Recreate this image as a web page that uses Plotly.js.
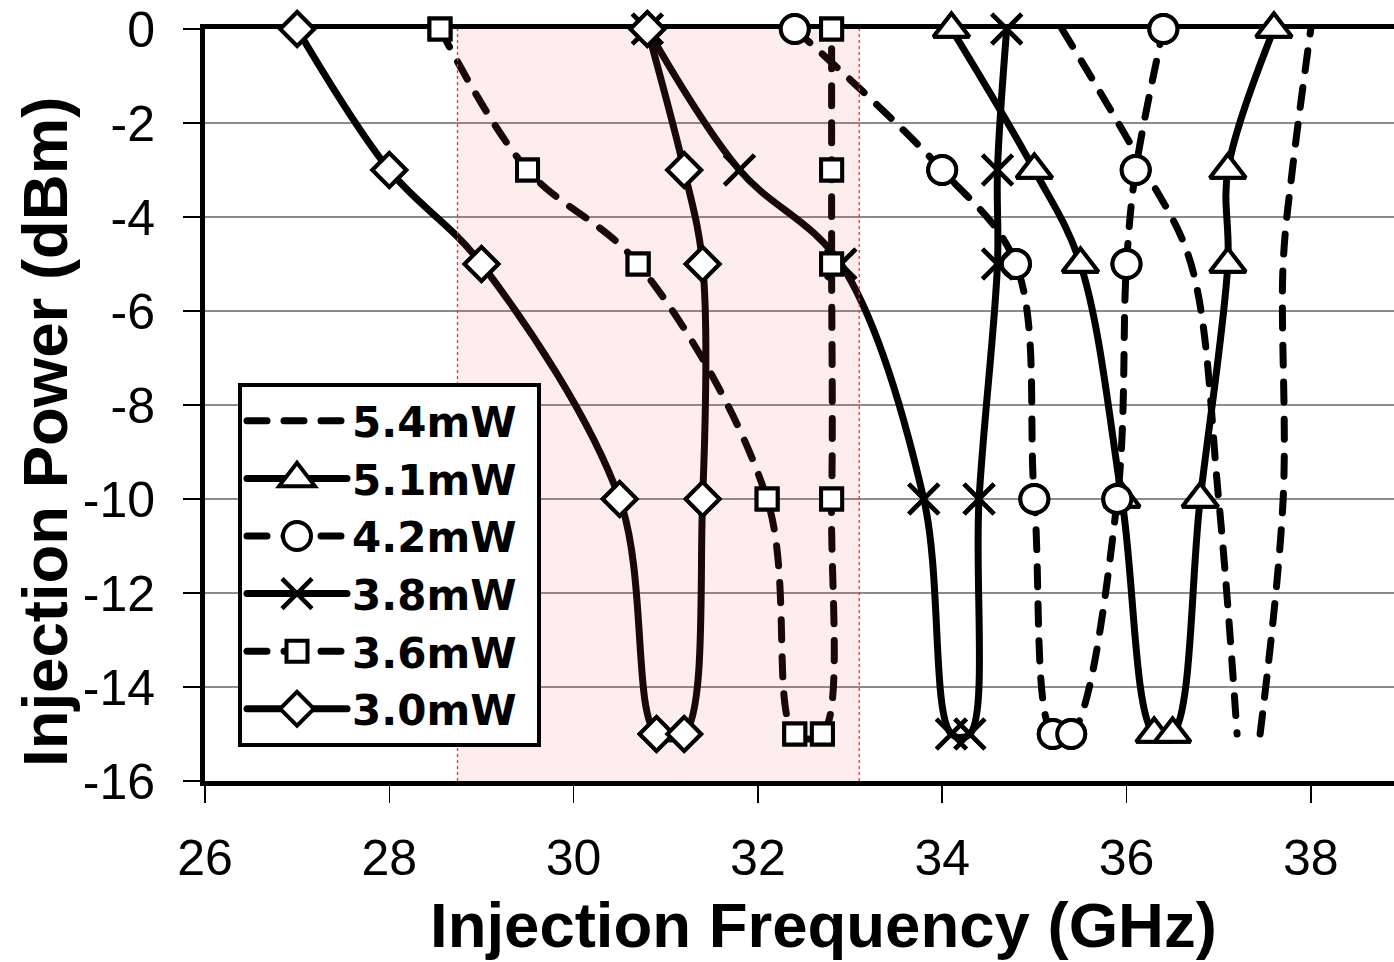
<!DOCTYPE html>
<html>
<head>
<meta charset="utf-8">
<script src="https://cdn.plot.ly/plotly-3.0.1.min.js"></script>
<style>
html, body { margin: 0; padding: 0; background: #ffffff; }
#chart { width: 1394px; height: 962px; }
.scatterlayer .js-line, .legend .js-line { stroke-linecap: round !important; }
</style>
</head>
<body>
<div id="chart"></div>
<script>
// ---- data ----
const seriesNames = ['5.4mW', '5.1mW', '4.2mW', '3.8mW', '3.6mW', '3.0mW'];
const power = [0, -3, -5, -10, -15, -15, -10, -5, -3, 0];
const freq54 = [35.3, 36.2, 36.7, 37.0, 37.2, 37.45, 37.7, 37.7, 37.8, 38.0];
const freq51 = [34.1, 35.0, 35.5, 35.95, 36.3, 36.5, 36.8, 37.1, 37.1, 37.6];
const freq42 = [32.4, 34.0, 34.8, 35.0, 35.2, 35.4, 35.9, 36.0, 36.1, 36.4];
const freq38 = [30.8, 31.8, 32.9, 33.8, 34.1, 34.3, 34.4, 34.6, 34.6, 34.7];
const freq36 = [28.55, 29.5, 30.7, 32.1, 32.4, 32.7, 32.8, 32.8, 32.8, 32.8];
const freq30 = [27.0, 28.0, 29.0, 30.5, 30.9, 31.2, 31.4, 31.4, 31.2, 30.8];
const shadeFreq = [28.74, 33.10];
const xTicks = [26, 28, 30, 32, 34, 36, 38];
const xTickLabels = ['26', '28', '30', '32', '34', '36', '38'];
const yTicks = [0, -2, -4, -6, -8, -10, -12, -14, -16];
const yTickLabels = ['0', '-2', '-4', '-6', '-8', '-10', '-12', '-14', '-16'];
const xRange = [26, 38.903];
const yRange = [-16, 0];
const xTitle = 'Injection Frequency (GHz)';
const yTitle = 'Injection Power (dBm)';

// ---- styles ----
const freqs = [freq54, freq51, freq42, freq38, freq36, freq30];
const dashes = ['20px,17px', 'solid', '20px,17px', 'solid', '20px,17px', 'solid'];
const symbols = [null, 'triangle-up', 'circle', 'x-thin', 'square', 'diamond'];
const sizes = [0, 31, 28, 30, 21, 26];
const splitBranches = [true, false, false, false, false, false];

function markerFor(i) {
  if (symbols[i] === 'x-thin') {
    return { symbol: 'x-thin', size: sizes[i], color: '#000', line: { color: '#000', width: 4.5 } };
  }
  return { symbol: symbols[i], size: sizes[i], color: '#ffffff', line: { color: '#000', width: 4 } };
}

function branchData(i) {
  // optionally draw the two sides of a curve without joining them at the bottom
  if (!splitBranches[i]) return { x: freqs[i], y: power };
  const h = power.length / 2;
  return {
    x: freqs[i].slice(0, h).concat([null], freqs[i].slice(h)),
    y: power.slice(0, h).concat([null], power.slice(h))
  };
}

const traces = [];
seriesNames.forEach((name, i) => {
  const d = branchData(i);
  const t = {
    type: 'scatter', name: name + '\u00a0', x: d.x, y: d.y,
    mode: symbols[i] ? 'lines+markers' : 'lines', connectgaps: false,
    line: { color: '#000', width: 7, shape: 'spline', smoothing: 1, dash: dashes[i] },
    cliponaxis: false, hoverinfo: 'skip'
  };
  if (symbols[i]) t.marker = markerFor(i);
  traces.push(t);
});
// shaded band overlay (above lines, below markers)
traces.push({
  type: 'scatter', mode: 'lines', showlegend: false, hoverinfo: 'skip',
  x: [shadeFreq[0], shadeFreq[1], shadeFreq[1], shadeFreq[0], shadeFreq[0]],
  y: [yRange[0], yRange[0], yRange[1], yRange[1], yRange[0]],
  fill: 'toself', fillcolor: 'rgba(240,80,80,0.10)', line: { width: 0 }
});
// marker-only traces on top
seriesNames.forEach((name, i) => {
  if (!symbols[i]) return;
  traces.push({
    type: 'scatter', name: name, x: freqs[i], y: power, mode: 'markers',
    marker: markerFor(i), showlegend: false, cliponaxis: false, hoverinfo: 'skip'
  });
});

const tickFont = { family: 'Liberation Sans, Arial, sans-serif', size: 50, color: '#000' };
const titleFont = { family: 'Liberation Sans, Arial, sans-serif', size: 63.5, color: '#000', weight: 'bold' };

const layout = {
  width: 1394, height: 962,
  margin: { l: 205, r: 0, t: 29, b: 181, pad: 0 },
  paper_bgcolor: '#ffffff', plot_bgcolor: '#ffffff',
  showlegend: true,
  xaxis: {
    range: xRange, tickvals: xTicks, ticktext: xTickLabels,
    ticks: 'outside', ticklen: 17, tickwidth: 1.5, tickcolor: '#000',
    showline: true, linewidth: 5, linecolor: '#000', mirror: true,
    showgrid: false, zeroline: false, layer: 'below traces',
    tickfont: tickFont, ticklabelstandoff: 12
  },
  yaxis: {
    range: yRange, tickvals: yTicks, ticktext: yTickLabels,
    ticks: 'outside', ticklen: 17, tickwidth: 1.5, tickcolor: '#000',
    showline: true, linewidth: 5, linecolor: '#000', mirror: false,
    showgrid: true, gridcolor: '#8c8c8c', gridwidth: 1.5, zeroline: false,
    layer: 'below traces',
    tickfont: tickFont, ticklabelstandoff: 18
  },
  annotations: [
    { text: xTitle, xref: 'paper', yref: 'paper', x: (823 - 205) / 1189, y: (781 - 925) / 752,
      xanchor: 'center', yanchor: 'middle', showarrow: false, font: titleFont },
    { text: yTitle, xref: 'paper', yref: 'paper', x: (45 - 205) / 1189, y: (781 - 432) / 752,
      xanchor: 'center', yanchor: 'middle', showarrow: false, textangle: -90, font: titleFont }
  ],
  shapes: [0, 1].map(k => ({
    type: 'line', xref: 'x', yref: 'y',
    x0: shadeFreq[k], x1: shadeFreq[k], y0: yRange[0], y1: yRange[1],
    line: { color: '#ff2a2a', width: 1.3, dash: '3px,3px' }, layer: 'above'
  })),
  legend: {
    x: 33 / 1189, y: (781 - 383) / 752, xanchor: 'left', yanchor: 'top',
    bgcolor: '#ffffff', bordercolor: '#000', borderwidth: 4,
    font: { family: 'DejaVu Sans, sans-serif', size: 42, color: '#000', weight: 'bold' },
    itemwidth: 100, tracegroupgap: 0, traceorder: 'normal'
  }
};

const gd = document.getElementById('chart');
Plotly.newPlot(gd, traces, layout, { displayModeBar: false, staticPlot: true }).then(() => {
  // enlarge legend markers to the trace marker size (legend caps them at 16px)
  gd.querySelectorAll('.legend .traces').forEach(g => {
    const d = g.__data__;
    const tr = d && d[0] && d[0].trace;
    if (!tr || !tr.marker) return;
    const s = Math.max(1, tr.marker.size / 16);
    g.querySelectorAll('path.scatterpts').forEach(p => {
      const t = p.getAttribute('transform') || '';
      p.setAttribute('transform', t + ' scale(' + s + ')');
      p.style.vectorEffect = 'non-scaling-stroke';
    });
  });
});
</script>
</body>
</html>
